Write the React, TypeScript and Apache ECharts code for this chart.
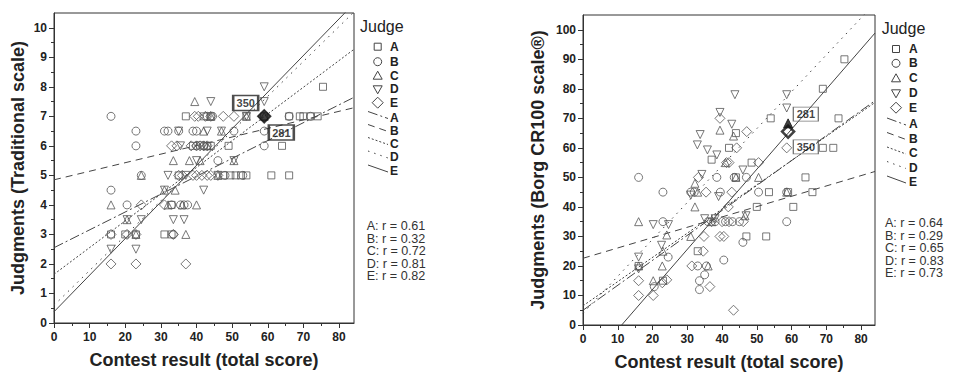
import React, { useEffect, useRef } from 'react';
import * as echarts from 'echarts';

// ---------- labels ----------
const judges = ['A', 'B', 'C', 'D', 'E'];
const tradR = ['0.61', '0.32', '0.72', '0.81', '0.82'];
const borgR = ['0.64', '0.29', '0.65', '0.83', '0.73'];
const xMajorTicks = [0, 10, 20, 30, 40, 50, 60, 70, 80];
const xMinorTicks = [5, 15, 25, 35, 45, 55, 65, 75];
const tradMajorTicks = [0, 1, 2, 3, 4, 5, 6, 7, 8, 9, 10];
const tradMinorTicks = [0.5, 1.5, 2.5, 3.5, 4.5, 5.5, 6.5, 7.5, 8.5, 9.5];
const borgMajorTicks = [0, 10, 20, 30, 40, 50, 60, 70, 80, 90, 100];
const borgMinorTicks = [5, 15, 25, 35, 45, 55, 65, 75, 85, 95];

// ---------- Traditional scale (left) ----------
const tradA = [[16, 3], [20, 3], [23, 3], [31, 3], [33, 3], [33, 4], [35, 5], [37, 7], [39, 6], [42, 7], [43, 6], [44, 6], [44, 7], [47.5, 5], [49, 6], [49.5, 5], [51, 5], [52.5, 5], [54, 5], [54, 7], [59, 7], [61, 5], [64, 6], [66, 5], [66, 7], [69, 7], [70, 7], [72, 7], [74, 7], [75.5, 8]];
const tradB = [[16, 7], [16, 4.5], [20.5, 4], [23, 6.5], [23, 6], [24.5, 5], [31, 6.5], [32, 6.5], [33, 4], [33.5, 3], [35, 6.5], [35.5, 4], [36.5, 4], [37.5, 4], [39, 6.5], [40, 6.5], [40, 6], [42, 6], [43, 7], [44.5, 7], [46, 5.5], [48, 5], [50.5, 6.5], [53, 5], [59, 6.5], [59, 6], [66, 7], [72, 7]];
const tradC = [[16, 4], [20.5, 3.5], [23, 3], [24.5, 5], [31, 4.5], [32, 4], [33.5, 5.5], [34, 4.5], [36, 4], [37, 3], [38, 5.5], [39.5, 7.5], [40, 4], [41, 5.5], [42, 6.5], [43, 6], [44, 7], [46, 5], [47, 6.5], [50.5, 5.5], [54, 7], [59, 7]];
const tradD = [[16, 2.5], [20.5, 3.5], [23, 2.5], [24.5, 3.5], [31, 4.5], [32, 5], [33.5, 3.5], [35, 6.5], [35.5, 6], [36.5, 3.5], [37, 5], [40, 5.5], [41, 6], [42, 4.5], [43, 6.5], [44, 7.5], [46, 5], [47, 6.5], [50.5, 5.5], [54, 7], [59, 8], [59, 7.5]];
const tradE = [[16, 3], [16, 2], [20.5, 3], [23, 3], [23, 2], [24.5, 4], [31, 4], [33.5, 3], [33, 6], [34.5, 6], [35, 5], [36, 5], [37, 2], [38.5, 6], [39, 5], [39.5, 7], [40, 5], [40, 6], [40.5, 7], [41, 6], [41.5, 5], [42, 6], [42.5, 7], [43, 5], [43, 6], [44, 7], [44, 5], [46, 5], [47.5, 7], [50.5, 7]];
const tradIntercepts = [2.55, 4.85, 1.65, 0.6, 0.38];
const tradSlopes = [0.0605, 0.029, 0.0905, 0.118, 0.124];
const tradHighlight = [[59, 7]];
const tradTags = [{ name: '350', value: [53.8, 7.45] }, { name: '281', value: [63.8, 6.45] }];

// ---------- Borg CR100 scale (right) ----------
const borgA = [[16, 20], [23, 15], [33, 25], [37, 56], [42, 60], [44, 65], [44, 50], [47, 30], [48.5, 55], [50, 40], [52.7, 30], [53.5, 45], [54, 70], [60.5, 40], [64, 50], [66, 45], [69, 80], [69, 60], [72, 60], [73.5, 70], [75.2, 90], [59, 45]];
const borgB = [[16, 50], [20.5, 13], [23, 45], [23, 35], [24.5, 23], [31, 45], [32, 45], [33.5, 15], [33.5, 12], [33, 20], [35.5, 20], [35, 17], [38.5, 50], [39.5, 45], [40.5, 22], [36, 35], [38, 35], [41, 35], [43, 35], [43.5, 50], [45, 35], [46, 28], [47, 50], [50.5, 45], [58.6, 35], [58.6, 45]];
const borgC = [[16, 35], [16, 20], [20.2, 15], [22.8, 20], [23, 25], [24.1, 30.5], [31, 30], [32.2, 40], [32.2, 48], [33, 45], [36, 20], [37, 35], [39.4, 66], [41, 55], [43.3, 64], [44, 50], [46.6, 37], [50.5, 50], [58.6, 45]];
const borgD = [[16, 23], [16, 19], [20.2, 34], [22.6, 27], [24.6, 34], [31, 44], [32.9, 61], [33.7, 64.5], [34.2, 51], [35.8, 59.3], [38.5, 57.6], [39.4, 72], [39, 43.5], [35, 36], [38, 36], [42.8, 68], [43.7, 78], [46, 52.5], [46.9, 37], [58.6, 78], [58.6, 73.5]];
const borgE = [[16, 10], [16, 15], [20.2, 10], [22.8, 14.3], [24.1, 15.3], [31.3, 20], [33.2, 50], [34.8, 30], [34.6, 25], [35.4, 45], [36.5, 13], [37, 35], [39.4, 30], [40.5, 30], [39.4, 70], [40, 35], [41.3, 55], [42, 55], [41.8, 40], [42.8, 45], [42, 35], [43.3, 5], [44.2, 60], [46.1, 35], [47.1, 65.5], [50.5, 55], [58.6, 60]];
const borgIntercepts = [5, 22.6, 6.5, 4, -15.1];
const borgSlopes = [0.845, 0.35, 0.82, 1.25, 1.357];
const borgHighlightE = [[59, 65.5]];
const borgHighlightC = [[59, 68.3]];
const borgTags = [{ name: '281', value: [64.1, 71.4] }, { name: '350', value: [64.1, 60.3] }];

// ---------- styles ----------
const FONT = '"Liberation Sans", Arial, Helvetica, sans-serif';
const INK = '#222';
const MARK = '#555';
const SYMBOLS = ['rect', 'circle', 'triangle', 'triangle', 'diamond'];
const SYMBOL_ROTATE = [0, 0, 0, 180, 0];
const SYMBOL_SIZE = [7, 8, 8, 8, 10];
const LINE_DASH: any[] = [[10, 3, 2, 3], [7, 5], [2, 2], [1.5, 5], 'solid'];

function axes(gridIndex: number, max: number, major: number[], minor: number[], name: string, nameGap: number, isX: boolean) {
  const main: any = {
    type: 'value', gridIndex, min: 0, max,
    position: isX ? 'bottom' : 'left',
    axisLine: { show: true, onZero: false, lineStyle: { color: '#333', width: 1 } },
    axisTick: { show: true, length: 5, customValues: major, lineStyle: { color: '#333' } },
    axisLabel: { show: true, customValues: major, margin: isX ? 8 : 7, fontSize: 12, fontWeight: 'bold', color: INK, fontFamily: FONT },
    splitLine: { show: false },
    name, nameLocation: 'middle', nameGap,
    nameTextStyle: { fontSize: 18, fontWeight: 'bold', color: INK, fontFamily: FONT },
  };
  const sub: any = {
    type: 'value', gridIndex, min: 0, max,
    position: isX ? 'bottom' : 'left',
    axisLine: { show: false, onZero: false },
    axisTick: { show: true, length: 3, customValues: minor, lineStyle: { color: '#333' } },
    axisLabel: { show: false },
    splitLine: { show: false },
  };
  return [main, sub];
}

function chartSeries(axisIndex: number, sets: number[][][], intercepts: number[], slopes: number[], xmax: number) {
  const out: any[] = [];
  sets.forEach((data, j) => {
    out.push({
      type: 'scatter', name: judges[j], xAxisIndex: axisIndex, yAxisIndex: axisIndex,
      data, symbol: SYMBOLS[j], symbolRotate: SYMBOL_ROTATE[j], symbolSize: SYMBOL_SIZE[j],
      itemStyle: { color: 'rgba(0,0,0,0)', borderColor: MARK, borderWidth: 1 },
      z: 3,
    });
  });
  intercepts.forEach((a, j) => {
    out.push({
      type: 'line', name: 'fit ' + judges[j], xAxisIndex: axisIndex, yAxisIndex: axisIndex,
      data: [[0, a], [xmax, a + slopes[j] * xmax]],
      symbol: 'none', clip: true, silent: true,
      lineStyle: { color: '#444', width: 1, type: LINE_DASH[j] },
      z: 2,
    });
  });
  return out;
}

function legendGraphics(symX: number, symY: number[], lineX1: number, lineX2: number, lineY: number[], letterX: number,
  titleX: number, titleY: number, rX: number, rTop: number, rLine: number, rFont: number, rTexts: string[]) {
  const g: any[] = [];
  const st = { fill: 'none', stroke: '#444', lineWidth: 1 };
  g.push({ type: 'text', x: titleX, y: titleY, style: { text: 'Judge', fontSize: 16, fontFamily: FONT, fill: INK, textAlign: 'left', textVerticalAlign: 'middle' } });
  symY.forEach((cy, j) => {
    const cx = symX;
    if (j === 0) g.push({ type: 'rect', shape: { x: cx - 3.5, y: cy - 3.5, width: 7, height: 7 }, style: st });
    if (j === 1) g.push({ type: 'circle', shape: { cx, cy, r: 4 }, style: st });
    if (j === 2) g.push({ type: 'polygon', shape: { points: [[cx, cy - 4.5], [cx + 4.5, cy + 3.5], [cx - 4.5, cy + 3.5]] }, style: st });
    if (j === 3) g.push({ type: 'polygon', shape: { points: [[cx - 4.5, cy - 3.5], [cx + 4.5, cy - 3.5], [cx, cy + 4.5]] }, style: st });
    if (j === 4) g.push({ type: 'polygon', shape: { points: [[cx, cy - 5.5], [cx + 5.5, cy], [cx, cy + 5.5], [cx - 5.5, cy]] }, style: st });
    g.push({ type: 'text', x: letterX, y: cy, style: { text: judges[j], fontSize: 12, fontWeight: 'bold', fontFamily: FONT, fill: INK, textAlign: 'left', textVerticalAlign: 'middle' } });
  });
  lineY.forEach((ly, j) => {
    const dash = LINE_DASH[j];
    g.push({ type: 'line', shape: { x1: lineX1, y1: ly - 6, x2: lineX2, y2: ly + 1 }, style: { stroke: '#444', lineWidth: 1, lineDash: dash === 'solid' ? null : dash } });
    g.push({ type: 'text', x: letterX, y: ly, style: { text: judges[j], fontSize: 12, fontWeight: 'bold', fontFamily: FONT, fill: INK, textAlign: 'left', textVerticalAlign: 'middle' } });
  });
  const rBlock = rTexts.map((r, j) => judges[j] + ': r = ' + r).join('\n');
  g.push({ type: 'text', x: rX, y: rTop, style: { text: rBlock, fontSize: rFont, lineHeight: rLine, fontFamily: FONT, fill: '#333', textAlign: 'left', textVerticalAlign: 'top' } });
  return g;
}

function tagSeries(axisIndex: number, data: any[], bw: number, color: string, size: number[]) {
  return {
    type: 'scatter', xAxisIndex: axisIndex, yAxisIndex: axisIndex, data,
    symbol: 'rect', symbolSize: size, z: 5, silent: true,
    itemStyle: { color: 'rgba(0,0,0,0)', borderColor: color, borderWidth: bw },
    label: { show: true, position: 'inside', formatter: '{b}', fontSize: 11, fontWeight: 'bold', color: '#111', fontFamily: FONT },
  };
}

const TRAD_XMAX = 84.2;
const BORG_XMAX = 84;

export default function App() {
  const ref = useRef<HTMLDivElement>(null);
  useEffect(() => {
    const chart = echarts.init(ref.current!, null, { renderer: 'svg' });
    const [tx, txm] = axes(0, TRAD_XMAX, xMajorTicks, xMinorTicks, 'Contest result (total score)', 28, true);
    const [ty, tym] = axes(0, 10.5, tradMajorTicks, tradMinorTicks, 'Judgments (Traditional scale)', 27, false);
    const [bx, bxm] = axes(1, BORG_XMAX, xMajorTicks, xMinorTicks, 'Contest result (total score)', 28, true);
    const [by, bym] = axes(1, 105, borgMajorTicks, borgMinorTicks, 'Judgments (Borg CR100 scale®)', 36, false);
    const option: any = {
      animation: false,
      backgroundColor: '#fff',
      textStyle: { fontFamily: FONT },
      grid: [
        { left: 54, top: 13, width: 300, height: 310, show: true, borderColor: '#333', borderWidth: 1, backgroundColor: 'rgba(0,0,0,0)', outerBoundsMode: 'none' },
        { left: 583, top: 15, width: 292, height: 310, show: true, borderColor: '#333', borderWidth: 1, backgroundColor: 'rgba(0,0,0,0)', outerBoundsMode: 'none' },
      ],
      xAxis: [{ ...tx }, { ...txm, gridIndex: 0 }, { ...bx }, { ...bxm, gridIndex: 1 }],
      yAxis: [{ ...ty }, { ...tym, gridIndex: 0 }, { ...by }, { ...bym, gridIndex: 1 }],
      series: [
        ...chartSeries(0, [tradA, tradB, tradC, tradD, tradE], tradIntercepts, tradSlopes, TRAD_XMAX),
        {
          type: 'scatter', xAxisIndex: 0, yAxisIndex: 0, data: tradHighlight, symbol: 'diamond', symbolSize: 13, z: 4,
          itemStyle: { color: '#111', borderColor: '#111', borderWidth: 1.5 },
        },
        tagSeries(0, tradTags, 2, '#222', [25, 15]),
        ...chartSeries(2, [borgA, borgB, borgC, borgD, borgE], borgIntercepts, borgSlopes, BORG_XMAX),
        {
          type: 'scatter', xAxisIndex: 2, yAxisIndex: 2, data: borgHighlightC, symbol: 'triangle', symbolSize: 9, z: 4,
          itemStyle: { color: '#111', borderColor: '#111', borderWidth: 1 },
        },
        {
          type: 'scatter', xAxisIndex: 2, yAxisIndex: 2, data: borgHighlightE, symbol: 'diamond', symbolSize: 12, z: 4,
          itemStyle: { color: 'rgba(0,0,0,0)', borderColor: '#111', borderWidth: 2.5 },
        },
        tagSeries(2, borgTags, 1, '#555', [25, 14]),
      ],
      graphic: [
        ...legendGraphics(377.7, [46.7, 61.7, 75.7, 89.3, 102.7], 368, 388, [117.5, 130.5, 143.5, 157, 171], 390,
          360, 26.7, 366.7, 219.7, 12.6, 12.6, tradR),
        ...legendGraphics(896, [49, 63.3, 78.3, 93.3, 107.7], 887, 906, [124, 138.5, 153, 167.5, 182], 909,
          881.7, 28.3, 885, 217, 12.5, 12.5, borgR),
      ],
    };
    chart.setOption(option);
    return () => chart.dispose();
  }, []);
  return <div ref={ref} style={{ position: 'fixed', left: 0, top: 0, width: 955, height: 372, background: '#fff' }} />;
}
